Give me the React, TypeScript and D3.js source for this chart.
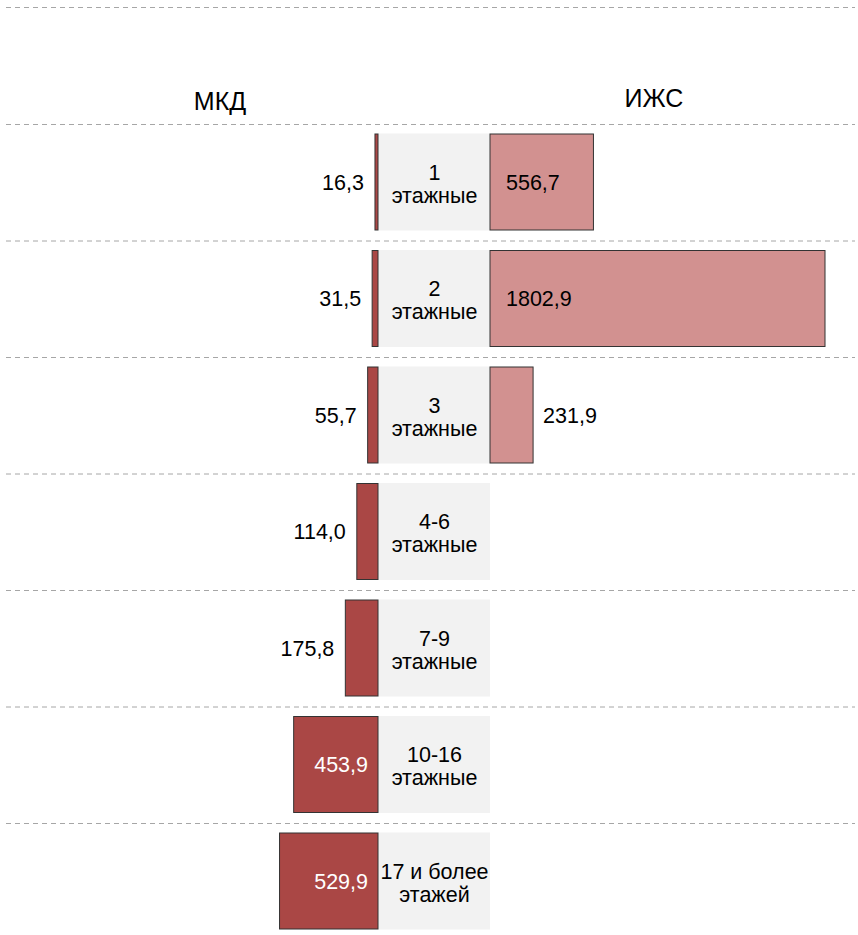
import { useEffect, useRef } from "react";
import * as d3 from "d3";

const categories = ["1|этажные", "2|этажные", "3|этажные", "4-6|этажные", "7-9|этажные", "10-16|этажные", "17 и более|этажей"];
const mkdValues = [16.3, 31.5, 55.7, 114.0, 175.8, 453.9, 529.9];
const izhsValues: (number | null)[] = [556.7, 1802.9, 231.9, null, null, null, null];
const headers = ["МКД", "ИЖС"];

const fmt = (v: number) => v.toFixed(1).replace(".", ",");

export default function App() {
  const svgRef = useRef<SVGSVGElement | null>(null);

  useEffect(() => {
    const svg = d3.select(svgRef.current);
    const width = 858;
    const height = 935;
    const font = "'Liberation Sans', Arial, sans-serif";
    svg.selectAll("*").remove();
    svg.attr("width", width).attr("height", height);

    const centerLeft = 378;
    const centerRight = 490;
    const rowTop = 124;
    const rowStep = 116.5;

    const y = d3.scaleBand<string>()
      .domain(categories)
      .range([rowTop, rowTop + rowStep * categories.length])
      .padding(0);
    const barPad = 9.5;
    const barH = 97;

    const w = d3.scaleLinear().domain([0, 1802.9]).range([0, 335]);

    // dashed separators
    const lines = [7, ...categories.map((c) => y(c)!)];
    svg.append("g")
      .selectAll("line")
      .data(lines)
      .enter()
      .append("line")
      .attr("x1", 6)
      .attr("x2", 855)
      .attr("y1", (d) => d + 0.5)
      .attr("y2", (d) => d + 0.5)
      .attr("stroke", "#a6a6a6")
      .attr("stroke-width", 1)
      .attr("stroke-dasharray", "5,4");

    // headers
    svg.append("text")
      .attr("x", 220).attr("y", 110)
      .attr("text-anchor", "middle")
      .style("font-family", font).style("font-size", "25px")
      .text(headers[0]);
    svg.append("text")
      .attr("x", 654).attr("y", 107)
      .attr("text-anchor", "middle")
      .style("font-family", font).style("font-size", "25px")
      .text(headers[1]);

    const rows = svg.append("g")
      .selectAll("g.row")
      .data(categories)
      .enter()
      .append("g")
      .attr("class", "row")
      .attr("transform", (d) => `translate(0,${y(d)! + barPad})`);

    // category boxes
    rows.append("rect")
      .attr("x", centerLeft)
      .attr("y", 0)
      .attr("width", centerRight - centerLeft)
      .attr("height", barH)
      .attr("fill", "#f2f2f2");

    rows.each(function (d) {
      const parts = d.split("|");
      const t = d3.select(this).append("text")
        .attr("text-anchor", "middle")
        .style("font-family", font).style("font-size", "21.5px")
        .attr("fill", "#000");
      parts.forEach((p, j) => {
        t.append("tspan").attr("x", (centerLeft + centerRight) / 2 + 0.5).attr("y", 46 + j * 23).text(p);
      });
    });

    // MKD bars (left)
    rows.append("rect")
      .attr("x", (_, i) => centerLeft - w(mkdValues[i]))
      .attr("y", 0.5)
      .attr("width", (_, i) => w(mkdValues[i]))
      .attr("height", barH - 1)
      .attr("fill", "#aa4745")
      .attr("stroke", "#333")
      .attr("stroke-width", 1);

    rows.append("text")
      .attr("x", (_, i) => {
        const bw = w(mkdValues[i]);
        return bw > 70 ? centerLeft - 10 : centerLeft - bw - 11;
      })
      .attr("y", barH / 2 + 7.5)
      .attr("text-anchor", "end")
      .attr("fill", (_, i) => (w(mkdValues[i]) > 70 ? "#fff" : "#000"))
      .style("font-family", font).style("font-size", "21.5px")
      .text((_, i) => fmt(mkdValues[i]));

    // IZHS bars (right)
    rows.filter((_, i) => izhsValues[i] != null)
      .each(function (d) {
        const i = categories.indexOf(d);
        const v = izhsValues[i] as number;
        const bw = w(v);
        const g = d3.select(this);
        g.append("rect")
          .attr("x", centerRight)
          .attr("y", 0.5)
          .attr("width", bw)
          .attr("height", barH - 1)
          .attr("fill", "#d29190")
          .attr("stroke", "#333")
          .attr("stroke-width", 1);
        g.append("text")
          .attr("x", bw > 70 ? centerRight + 16 : centerRight + bw + 10)
          .attr("y", barH / 2 + 7.5)
          .attr("text-anchor", "start")
          .attr("fill", "#000")
          .style("font-family", font).style("font-size", "21.5px")
          .text(fmt(v));
      });
  }, []);

  return (
    <div style={{ position: "absolute", left: 0, top: 0, width: 858, height: 935, background: "#fff" }}>
      <svg ref={svgRef} style={{ display: "block" }} />
    </div>
  );
}
